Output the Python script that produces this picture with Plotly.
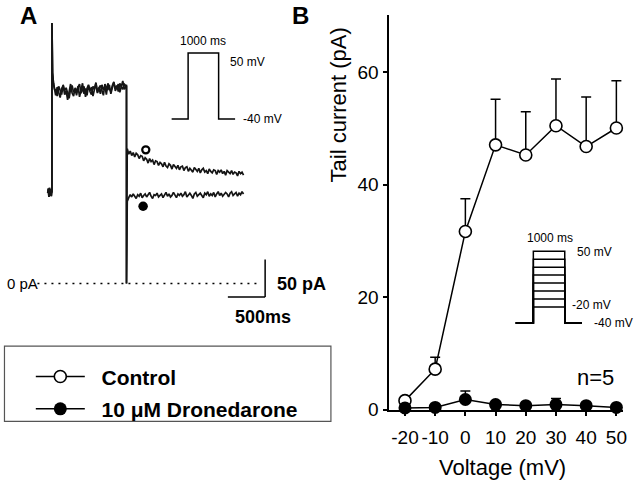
import plotly.graph_objects as go

W, H = 640, 492
FONT = "Liberation Sans, Arial, sans-serif"

# ---------------- Panel B data ----------------
voltage = [-20, -10, 0, 10, 20, 30, 40, 50]
voltage_labels = ["-20", "-10", "0", "10", "20", "30", "40", "50"]
control_mean = [1.6, 7.2, 31.7, 47.1, 45.3, 50.5, 46.8, 50.1]
control_sem = [0.7, 2.1, 5.8, 8.1, 7.7, 8.3, 8.8, 8.4]
drone_mean = [0.3, 0.4, 1.8, 0.9, 0.7, 0.9, 0.7, 0.4]
drone_sem = [0.3, 0.3, 1.5, 0.4, 0.3, 1.1, 0.4, 0.2]
no_lower = [0, 0, 0, 0, 0, 0, 0, 0]
y_ticks = [0, 20, 40, 60]

# ---------------- Panel A data (time in ms, current in pA) ----------------
pre_t = [-57, -49, -41, -33, -25, -17, -9, -2, 0]
pre_i = [120, 126, 115, 127, 117, 125, 116, 123, 121]
onset_t = [0, 1, 8, 20, 35]
onset_i = [346, 292, 280, 266, 258]
plateau_t0, plateau_dt = 50, 20
ctl_plateau = [250, 261, 254, 247, 259, 263, 251, 256, 244, 258,
               265, 253, 249, 260, 255, 262, 248, 257, 266, 252,
               259, 250, 263, 256, 261, 249, 258, 267, 254, 260,
               252, 264, 257, 262, 251, 266, 259, 255, 263, 268,
               256, 261, 265, 254, 262, 269, 258, 264]
dro_plateau = [257, 249, 262, 255, 251, 264, 256, 260, 252, 246,
               259, 263, 254, 258, 250, 261, 265, 253, 257, 262,
               248, 259, 264, 255, 251, 262, 258, 266, 253, 260,
               263, 256, 250, 265, 261, 257, 264, 252, 260, 267,
               259, 263, 255, 266, 261, 258, 265, 262]
step_end_t = 1000
drop_t = [1000]
drop_i = [0]
tail_t0, tail_dt = 1010, 20
ctl_tail = [179, 172, 176, 170, 174, 168, 173, 171, 166, 170,
            169, 163, 167, 165, 160, 166, 162, 164, 158, 163,
            162, 157, 161, 159, 155, 161, 156, 154, 159, 157,
            152, 158, 155, 153, 157, 151, 155, 156, 150, 154,
            155, 149, 153, 151, 148, 154, 152, 149, 153, 147,
            151, 153, 148, 150, 146, 152, 149, 147, 151, 150,
            145, 150, 148, 151, 146, 149, 144, 150, 148, 146,
            150, 145, 148, 147, 143, 149, 146, 148, 144]
dro_tail = [109, 114, 118, 115, 119, 116, 113, 118, 116, 120,
            114, 117, 119, 115, 118, 121, 116, 113, 118, 117,
            120, 115, 117, 119, 114, 118, 121, 116, 119, 115,
            117, 121, 118, 114, 119, 117, 120, 116, 118, 122,
            115, 118, 120, 117, 113, 119, 121, 116, 118, 120,
            117, 114, 120, 118, 122, 116, 119, 117, 121, 115,
            119, 122, 117, 120, 116, 118, 121, 119, 115, 120,
            122, 117, 119, 121, 116, 120, 118, 122, 119]

# voltage protocols (ms, mV)
protoA_t = [-540, 0, 0, 1000, 1000, 1540]
protoA_v = [-40, -40, 50, 50, -40, -40]
protoB_t = [-560, 0, 0, 1000, 1000, 1550]
protoB_hold = -40
protoB_levels = [-20, -10, 0, 10, 20, 30, 40, 50]

# scale bars
bar_ms = 500
bar_pA = 50


def seq(t0, dt, n):
    return [t0 + k * dt for k in range(n)]


def build(plateau, tail):
    t = (pre_t + onset_t + seq(plateau_t0, plateau_dt, len(plateau)) + [step_end_t]
         + drop_t + seq(tail_t0, tail_dt, len(tail)))
    i = pre_i + onset_i + plateau + [plateau[-1]] + drop_i + tail
    return t, i


ctl_t, ctl_i = build(ctl_plateau, ctl_tail)
dro_t, dro_i = build(dro_plateau, dro_tail)


# ---------------- layout helpers (pixel placement) ----------------
def dom_x(a, b):
    return [a / W, b / W]


def dom_y(top, bot):
    return [1 - bot / H, 1 - top / H]


def rng_x(a, b, zero_px, ppu):
    return [(a - zero_px) / ppu, (b - zero_px) / ppu]


def rng_y(top, bot, zero_py, ppu):
    return [(zero_py - bot) / ppu, (zero_py - top) / ppu]


def px(x):
    return x / W


def py(y):
    return 1 - y / H


hidden = dict(visible=False, showgrid=False, zeroline=False, fixedrange=True)

fig = go.Figure()
LC = "#151515"

# Panel A traces
fig.add_trace(go.Scatter(x=ctl_t, y=ctl_i, mode="lines", line=dict(color=LC, width=1.7),
                         xaxis="x2", yaxis="y2", showlegend=False, hoverinfo="skip"))
fig.add_trace(go.Scatter(x=dro_t, y=dro_i, mode="lines", line=dict(color=LC, width=1.7),
                         xaxis="x2", yaxis="y2", showlegend=False, hoverinfo="skip"))
# protocol A
fig.add_trace(go.Scatter(x=protoA_t, y=protoA_v, mode="lines", line=dict(color="black", width=1.5),
                         xaxis="x3", yaxis="y3", showlegend=False, hoverinfo="skip"))
# protocol B
for lv in protoB_levels:
    fig.add_trace(go.Scatter(x=protoB_t, y=[protoB_hold, protoB_hold, lv, lv, protoB_hold, protoB_hold],
                             mode="lines", line=dict(color="black", width=1.5),
                             xaxis="x4", yaxis="y4", showlegend=False, hoverinfo="skip"))

# Panel B traces
fig.add_trace(go.Scatter(
    x=voltage, y=control_mean, mode="lines+markers", name="\u00a0\u00a0<b>Control</b>",
    line=dict(color="black", width=1.5),
    marker=dict(symbol="circle", size=12, color="white", line=dict(color="black", width=1.6)),
    error_y=dict(type="data", symmetric=False, array=control_sem, arrayminus=no_lower,
                 width=5, thickness=1.5, color="black"),
    cliponaxis=False, xaxis="x", yaxis="y", legendgroup="a"))
fig.add_trace(go.Scatter(
    x=voltage, y=drone_mean, mode="lines+markers", name="\u00a0\u00a0<b>10 μM Dronedarone</b>",
    line=dict(color="black", width=1.5),
    marker=dict(symbol="circle", size=13, color="black", line=dict(color="black", width=0)),
    error_y=dict(type="data", symmetric=False, array=drone_sem, arrayminus=no_lower,
                 width=5, thickness=1.5, color="black"),
    cliponaxis=False, xaxis="x", yaxis="y", legendgroup="b"))

# Panel A axes geometry
A_T0, A_PPMS = 52.3, 0.075
A_I0, A_PPPA = 290.0, 0.77
# insets
IA_T0, IA_PPMS, IA_V0, IA_PPMV = 189.3, 0.0307, 91.7, 0.749
IB_T0, IB_PPMS, IB_V0, IB_PPMV = 536.7, 0.0316, 297.7, 0.8144
# Panel B
B_X0, B_PPU, B_Y0, B_PPY = 468.3, 3.039, 419.0, 5.75

axB = dict(showgrid=False, zeroline=False, showline=True, linecolor="black", linewidth=1.5,
           ticks="outside", ticklen=5, tickwidth=1.5, tickcolor="black",
           tickfont=dict(family=FONT, size=19, color="black"), fixedrange=True)

fig.update_layout(
    width=W, height=H, margin=dict(l=0, r=0, t=0, b=0),
    paper_bgcolor="white", plot_bgcolor="rgba(0,0,0,0)",
    font=dict(family=FONT, color="black"),
    xaxis=dict(domain=dom_x(391.7, 627), range=rng_x(391.7, 627, B_X0, B_PPU),
               tickvals=voltage, ticktext=voltage_labels, tickangle=0, ticklabelstandoff=5,
               anchor="y", **axB),
    yaxis=dict(domain=dom_y(15, 419), range=rng_y(15, 419, B_Y0, B_PPY),
               tickvals=y_ticks, anchor="x", **axB),
    xaxis2=dict(domain=dom_x(0, 320), range=rng_x(0, 320, A_T0, A_PPMS), anchor="y2", **hidden),
    yaxis2=dict(domain=dom_y(0, 345), range=rng_y(0, 345, A_I0, A_PPPA), anchor="x2", **hidden),
    xaxis3=dict(domain=dom_x(165, 245), range=rng_x(165, 245, IA_T0, IA_PPMS), anchor="y3", **hidden),
    yaxis3=dict(domain=dom_y(45, 130), range=rng_y(45, 130, IA_V0, IA_PPMV), anchor="x3", **hidden),
    xaxis4=dict(domain=dom_x(510, 610), range=rng_x(510, 610, IB_T0, IB_PPMS), anchor="y4", **hidden),
    yaxis4=dict(domain=dom_y(245, 340), range=rng_y(245, 340, IB_V0, IB_PPMV), anchor="x4", **hidden),
    showlegend=True,
    legend=dict(x=px(31), y=py(364.5), xanchor="left", yanchor="top",
                bgcolor="rgba(0,0,0,0)", borderwidth=0, tracegroupgap=2, itemwidth=49,
                font=dict(family=FONT, size=21, color="black"), itemsizing="trace"),
)

# scale bars & zero line (in panel-A data coordinates)
bar_t = 2860
bar_i = -18
fig.add_shape(type="line", xref="x2", yref="y2", x0=bar_t, x1=bar_t, y0=bar_i, y1=bar_i + bar_pA,
              line=dict(color="black", width=1.5))
fig.add_shape(type="line", xref="x2", yref="y2", x0=bar_t - bar_ms, x1=bar_t, y0=bar_i, y1=bar_i,
              line=dict(color="black", width=1.5))
fig.add_shape(type="line", xref="x2", yref="y2", x0=-195, x1=2745, y0=0, y1=0,
              line=dict(color="black", width=1.5, dash="2px,5px"))

# legend frame
fig.add_shape(type="rect", xref="paper", yref="paper", x0=px(4.5), x1=px(333), y0=py(431), y1=py(354),
              line=dict(color="#555555", width=1.2))


# label marker keys for panel A traces
def circ(cx, cy, r, fill, lw):
    fig.add_shape(type="circle", xref="paper", yref="paper",
                  x0=px(cx - r), x1=px(cx + r), y0=py(cy + r), y1=py(cy - r),
                  fillcolor=fill, line=dict(color="black", width=lw))


circ(146.7, 153.3, 3.6, "white", 2.2)
circ(144.0, 211.0, 4.8, "black", 0)


def ann(text, x, y, size, xanchor="center", angle=0):
    fig.add_annotation(text=text, x=px(x), y=py(y), xref="paper", yref="paper",
                       xanchor=xanchor, yanchor="middle", showarrow=False, textangle=angle,
                       font=dict(family=FONT, size=size, color="black"))


ann("<b>A</b>", 29, 16, 24)
ann("<b>B</b>", 302.5, 16, 24)
ann("1000 ms", 204, 41.7, 12)
ann("50 mV", 229.3, 63, 12, "left")
ann("-40 mV", 242.7, 121.7, 12, "left")
ann("0 pA", 5, 290, 15, "left")
ann("<b>50 pA</b>", 277, 290, 18, "left")
ann("<b>500ms</b>", 265, 324, 18)
ann("1000 ms", 553.7, 243.3, 12)
ann("50 mV", 578.3, 257.7, 12, "left")
ann("-20 mV", 573.3, 311.7, 12, "left")
ann("-40 mV", 596, 330, 12, "left")
ann("n=5", 599, 386, 22)
ann("Tail current (pA)", 341, 107, 22, angle=-90)
ann("Voltage (mV)", 505.7, 478, 22)

fig.write_html("out.html", config={"displayModeBar": False},
               post_script="document.body.style.margin='0';document.body.style.overflow='hidden';")
